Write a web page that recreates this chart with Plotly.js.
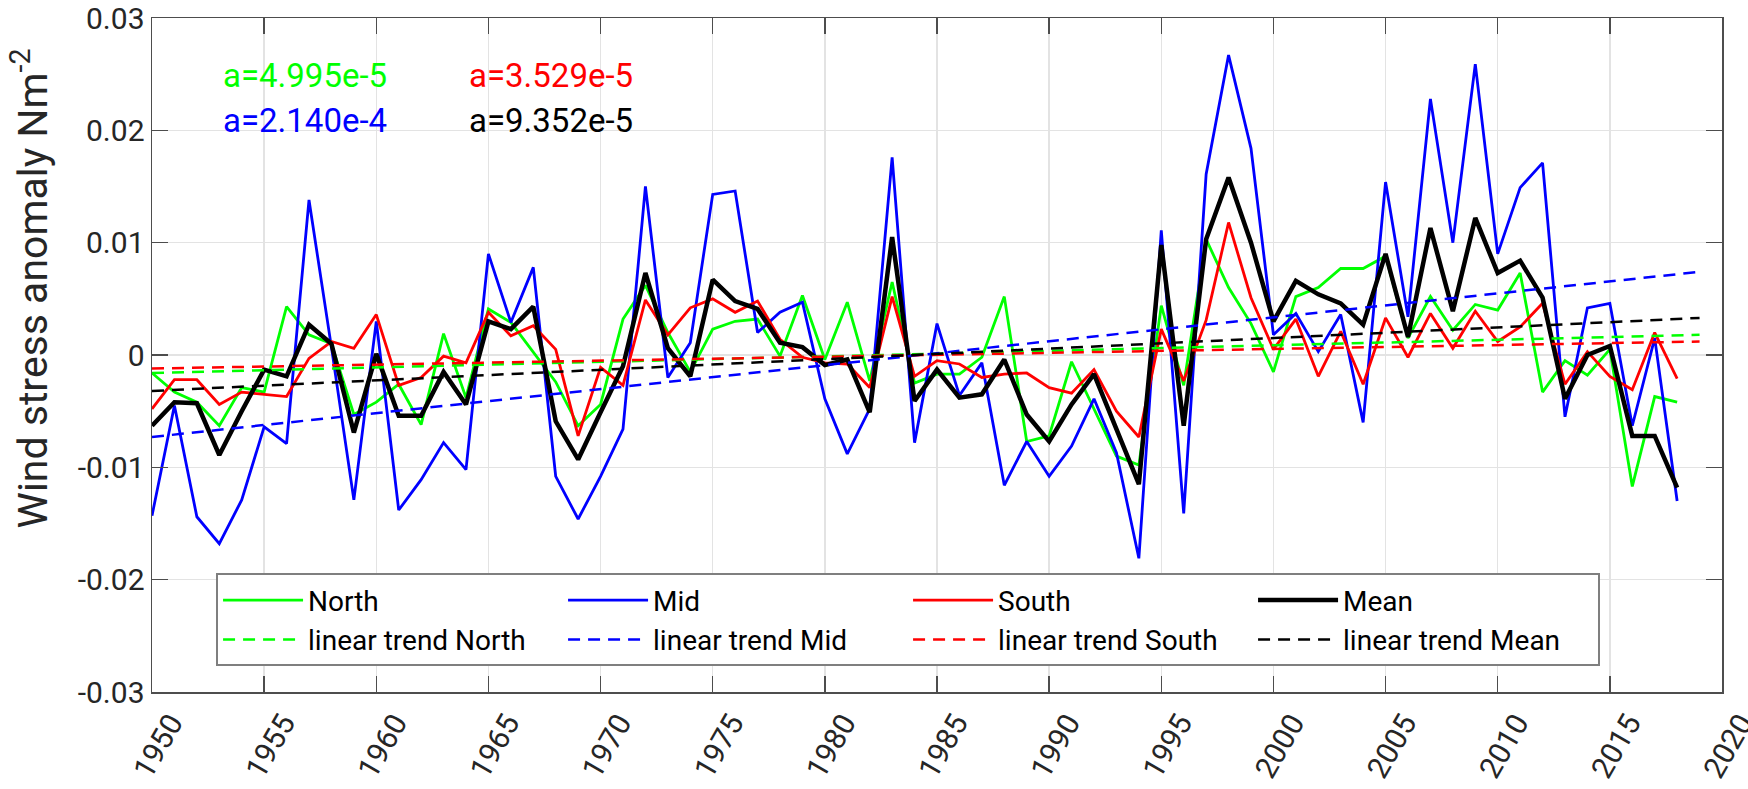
<!DOCTYPE html>
<html>
<head>
<meta charset="utf-8">
<script src="https://cdn.plot.ly/plotly-3.0.1.min.js"></script>
<style>
  body { margin: 0; background: #fff; }
  #windstress { width: 1748px; height: 789px; }
</style>
</head>
<body>
<div id="windstress"></div>
<script>
// annual wind stress anomaly (N m^-2), 1950-2018
const years = [1950, 1951, 1952, 1953, 1954, 1955, 1956, 1957, 1958, 1959,
  1960, 1961, 1962, 1963, 1964, 1965, 1966, 1967, 1968, 1969,
  1970, 1971, 1972, 1973, 1974, 1975, 1976, 1977, 1978, 1979,
  1980, 1981, 1982, 1983, 1984, 1985, 1986, 1987, 1988, 1989,
  1990, 1991, 1992, 1993, 1994, 1995, 1996, 1997, 1998, 1999,
  2000, 2001, 2002, 2003, 2004, 2005, 2006, 2007, 2008, 2009,
  2010, 2011, 2012, 2013, 2014, 2015, 2016, 2017, 2018];

const north = [-0.0016, -0.0033, -0.0042, -0.0063, -0.0029, -0.0033, 0.0043, 0.0018, 0.0010, -0.0053,
  -0.0042, -0.0026, -0.0062, 0.0019, -0.0038, 0.0041, 0.0029, 0.0002, -0.0024, -0.0063,
  -0.0044, 0.0032, 0.0062, 0.0020, -0.0015, 0.0023, 0.0030, 0.0032, -0.0001, 0.0053,
  -0.0004, 0.0047, -0.0023, 0.0065, -0.0025, -0.0017, -0.0017, -0.0002, 0.0052, -0.0077,
  -0.0072, -0.0006, -0.0048, -0.0090, -0.0098, 0.0044, -0.0027, 0.0103, 0.0060, 0.0028,
  -0.0015, 0.0052, 0.0060, 0.0077, 0.0077, 0.0088, 0.0015, 0.0052, 0.0022, 0.0045,
  0.0040, 0.0073, -0.0033, -0.0005, -0.0018, 0.0005, -0.0117, -0.0037, -0.0042];

const mid = [-0.0143, -0.0045, -0.0144, -0.0168, -0.0129, -0.0064, -0.0079, 0.0138, 0.0007, -0.0129,
  0.0030, -0.0138, -0.0111, -0.0078, -0.0102, 0.0090, 0.0029, 0.0078, -0.0108, -0.0146,
  -0.0108, -0.0066, 0.0150, -0.0020, 0.0011, 0.0143, 0.0146, 0.0020, 0.0038, 0.0047,
  -0.0039, -0.0088, -0.0048, 0.0176, -0.0078, 0.0028, -0.0036, -0.0007, -0.0116, -0.0077,
  -0.0108, -0.0081, -0.0039, -0.0087, -0.0181, 0.0111, -0.0141, 0.0161, 0.0267, 0.0184,
  0.0018, 0.0037, 0.0003, 0.0036, -0.0060, 0.0154, 0.0034, 0.0228, 0.0100, 0.0259,
  0.0090, 0.0149, 0.0171, -0.0055, 0.0042, 0.0046, -0.0063, 0.0015, -0.0130];

const south = [-0.0048, -0.0022, -0.0022, -0.0044, -0.0033, -0.0035, -0.0037, -0.0003, 0.0012, 0.0006,
  0.0036, -0.0027, -0.0020, -0.0001, -0.0007, 0.0038, 0.0017, 0.0026, 0.0005, -0.0072,
  -0.0011, -0.0027, 0.0049, 0.0018, 0.0042, 0.0050, 0.0038, 0.0048, 0.0014, -0.0002,
  -0.0007, -0.0008, -0.0029, 0.0052, -0.0019, -0.0005, -0.0008, -0.0020, -0.0017, -0.0016,
  -0.0029, -0.0034, -0.0013, -0.0050, -0.0073, 0.0023, -0.0023, 0.0031, 0.0118, 0.0051,
  0.0005, 0.0032, -0.0019, 0.0021, -0.0026, 0.0033, -0.0002, 0.0037, 0.0006, 0.0039,
  0.0012, 0.0025, 0.0046, -0.0026, 0.0003, -0.0019, -0.0031, 0.0020, -0.0021];

const mean = [-0.0063, -0.0042, -0.0043, -0.0089, -0.0050, -0.0013, -0.0019, 0.0027, 0.0010, -0.0069,
  0.0001, -0.0054, -0.0054, -0.0015, -0.0044, 0.0030, 0.0023, 0.0043, -0.0059, -0.0093,
  -0.0051, -0.0010, 0.0073, 0.0006, -0.0019, 0.0067, 0.0048, 0.0041, 0.0011, 0.0007,
  -0.0009, -0.0004, -0.0051, 0.0105, -0.0041, -0.0013, -0.0038, -0.0035, -0.0004, -0.0053,
  -0.0077, -0.0044, -0.0017, -0.0066, -0.0115, 0.0098, -0.0063, 0.0103, 0.0158, 0.0100,
  0.0030, 0.0066, 0.0054, 0.0046, 0.0027, 0.0090, 0.0016, 0.0113, 0.0039, 0.0122,
  0.0073, 0.0084, 0.0051, -0.0039, 0.0000, 0.0008, -0.0072, -0.0072, -0.0118];

// linear trends, drawn from 1950 to 2019
const trendYears = [1950, 2019];
const trendNorth = [-0.0016, 0.0018];
const trendMid = [-0.0073, 0.0074];
const trendSouth = [-0.0012, 0.0012];
const trendMean = [-0.0032, 0.0033];

const slopeLabels = ["a=4.995e-5", "a=2.140e-4", "a=3.529e-5", "a=9.352e-5"];

const xTicks = [1950, 1955, 1960, 1965, 1970, 1975, 1980, 1985, 1990, 1995, 2000, 2005, 2010, 2015, 2020];
const yTicks = [-0.03, -0.02, -0.01, 0, 0.01, 0.02, 0.03];
const yTickText = ["-0.03", "-0.02", "-0.01", "0", "0.01", "0.02", "0.03"];

const GREEN = "#00ff00", BLUE = "#0000ff", RED = "#ff0000", BLACK = "#000000";
const DASH = "12px,8px";

function solid(y, name, color, width) {
  return { x: years, y: y, type: "scatter", mode: "lines", name: name,
    line: { color: color, width: width }, hoverinfo: "x+y" };
}
function trend(y, name, color) {
  return { x: trendYears, y: y, type: "scatter", mode: "lines", name: name,
    line: { color: color, width: 2.5, dash: DASH }, hoverinfo: "x+y" };
}

var data = [
  solid(north, "North", GREEN, 2.8),
  solid(mid, "Mid", BLUE, 2.8),
  solid(south, "South", RED, 2.8),
  solid(mean, "Mean", BLACK, 4.5),
  trend(trendNorth, "linear trend North", GREEN),
  trend(trendMid, "linear trend Mid", BLUE),
  trend(trendSouth, "linear trend South", RED),
  trend(trendMean, "linear trend Mean", BLACK)
];

const axisColor = "#4d4d4d";
const xTickFont = { family: "Roboto, sans-serif", size: 30, color: "#262626" };
const yTickFont = { family: "Roboto, sans-serif", size: 30, color: "#262626" };

var layout = {
  width: 1748,
  height: 789,
  margin: { l: 152, r: 26, t: 18, b: 97, pad: 0 },
  paper_bgcolor: "#ffffff",
  plot_bgcolor: "#ffffff",
  font: { family: "Roboto, sans-serif", size: 30, color: "#262626" },
  showlegend: true,
  legend: {
    orientation: "h",
    x: 0.0408, y: 0.176, xanchor: "left", yanchor: "top",
    bgcolor: "#ffffff", bordercolor: "#7f7f7f", borderwidth: 2,
    font: { family: "Roboto, sans-serif", size: 28, color: "#000000" },
    itemwidth: 80,
    entrywidth: 250, entrywidthmode: "pixels",
    tracegroupgap: 0
  },
  xaxis: {
    range: [1950, 2020],
    tickmode: "array", tickvals: xTicks,
    tickangle: -60,
    ticklabelshift: 19,
    ticklabeloverflow: "allow",
    tickfont: xTickFont,
    ticks: "inside", ticklen: 16, tickwidth: 1.5, tickcolor: axisColor,
    showline: true, linecolor: axisColor, linewidth: 1.5, mirror: "ticks",
    showgrid: true, gridcolor: "#e3e3e3", gridwidth: 1.5,
    zeroline: false
  },
  yaxis: {
    range: [-0.03, 0.03],
    tickmode: "array", tickvals: yTicks, ticktext: yTickText,
    ticklabeloverflow: "allow",
    tickfont: yTickFont,
    ticks: "inside", ticklen: 16, tickwidth: 1.5, tickcolor: axisColor,
    showline: true, linecolor: axisColor, linewidth: 1.5, mirror: "ticks",
    showgrid: true, gridcolor: "#e3e3e3", gridwidth: 1.5,
    zeroline: false
  },
  annotations: [
    { text: slopeLabels[0], x: 1953.06, y: 0.0249, xref: "x", yref: "y", showarrow: false,
      xanchor: "left", yanchor: "middle", font: { size: 33, color: GREEN } },
    { text: slopeLabels[1], x: 1953.06, y: 0.0209, xref: "x", yref: "y", showarrow: false,
      xanchor: "left", yanchor: "middle", font: { size: 33, color: BLUE } },
    { text: slopeLabels[2], x: 1964.03, y: 0.0249, xref: "x", yref: "y", showarrow: false,
      xanchor: "left", yanchor: "middle", font: { size: 33, color: RED } },
    { text: slopeLabels[3], x: 1964.03, y: 0.0209, xref: "x", yref: "y", showarrow: false,
      xanchor: "left", yanchor: "middle", font: { size: 33, color: BLACK } },
    // y axis label, placed by hand like the original (sits a bit above centre)
    { text: "Wind stress anomaly Nm<sup>-2</sup>", textangle: -90,
      x: -0.078, y: 0.598, xref: "paper", yref: "paper", showarrow: false,
      xanchor: "center", yanchor: "middle",
      font: { size: 41, color: "#262626" } }
  ]
};

Plotly.newPlot("windstress", data, layout, { displayModeBar: false, staticPlot: true });
</script>
</body>
</html>
